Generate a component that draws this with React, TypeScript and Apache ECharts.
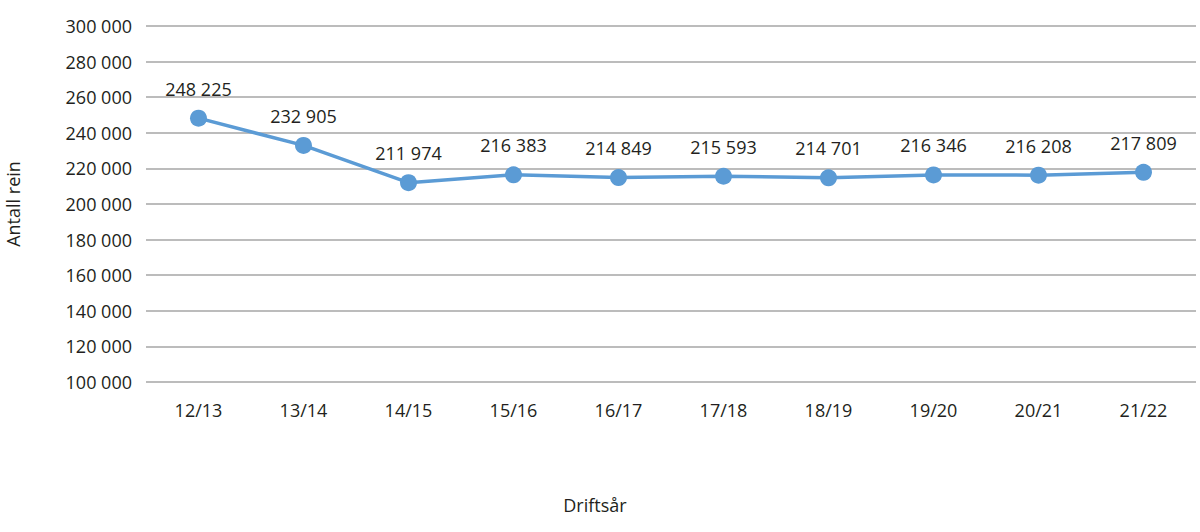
import React, { useEffect, useRef } from 'react';
import * as echarts from 'echarts';

const seasons = ['12/13', '13/14', '14/15', '15/16', '16/17', '17/18', '18/19', '19/20', '20/21', '21/22'];
const reindeer = [248225, 232905, 211974, 216383, 214849, 215593, 214701, 216346, 216208, 217809];

const FONT = '"Open Sans", "Noto Sans", sans-serif';
const BLUE = '#5b9bd5';
const INK = '#231f20';

// 248225 -> "248 225"
const fmt = (v: number) => String(v).replace(/\B(?=(\d{3})+(?!\d))/g, ' ');

const App: React.FC = () => {
  const chartRef = useRef<HTMLDivElement>(null);

  useEffect(() => {
    if (!chartRef.current) return;
    const chart = echarts.init(chartRef.current, undefined, { renderer: 'svg' });

    chart.setOption({
      animation: false,
      grid: { left: 146, right: 4, top: 26, bottom: 150, containLabel: false, outerBoundsMode: 'none' },
      xAxis: {
        type: 'category',
        data: seasons,
        axisLine: { show: false },
        axisTick: { show: false },
        axisLabel: { color: INK, fontFamily: FONT, fontSize: 18, margin: 19 }
      },
      yAxis: {
        type: 'value',
        min: 100000,
        max: 300000,
        interval: 20000,
        name: 'Antall rein',
        nameLocation: 'middle',
        nameGap: 124,
        nameTextStyle: { color: INK, fontFamily: FONT, fontSize: 18 },
        axisLine: { show: false },
        axisTick: { show: false },
        axisLabel: { color: INK, fontFamily: FONT, fontSize: 18, margin: 14, formatter: fmt },
        splitLine: { lineStyle: { color: '#a6a6a6', width: 1.5 } }
      },
      graphic: [
        {
          type: 'text',
          x: 595,
          y: 505,
          style: {
            text: 'Driftsår',
            fill: INK,
            font: `18px ${FONT}`,
            textAlign: 'center',
            textVerticalAlign: 'middle'
          }
        }
      ],
      series: [
        {
          type: 'line',
          data: reindeer,
          symbol: 'circle',
          symbolSize: 17,
          lineStyle: { color: BLUE, width: 3.5 },
          itemStyle: { color: BLUE },
          label: {
            show: true,
            position: 'top',
            distance: 12,
            color: INK,
            fontFamily: FONT,
            fontSize: 18,
            formatter: (p: any) => fmt(p.value)
          }
        }
      ]
    });

    return () => {
      chart.dispose();
    };
  }, []);

  return (
    <div
      ref={chartRef}
      style={{ position: 'fixed', left: 0, top: 0, width: 1200, height: 532, background: '#fff' }}
    />
  );
};

export default App;
